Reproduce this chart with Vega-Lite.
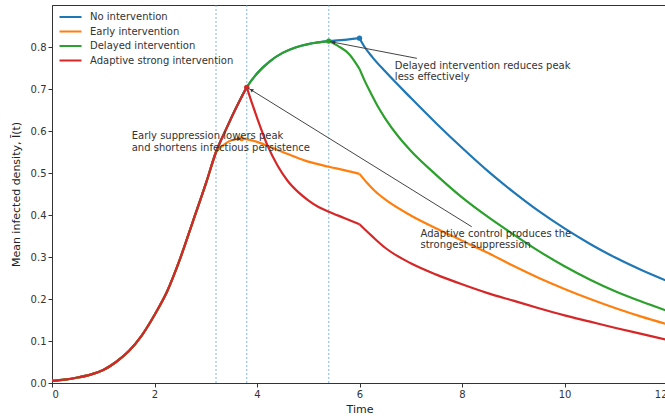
{
  "$schema": "https://vega.github.io/schema/vega-lite/v6.json",
  "autosize": {"type": "none"},
  "padding": {"left": 52, "top": 5, "right": 0, "bottom": 33},
  "width": 615,
  "height": 378,
  "background": "white",
  "config": {
    "font": "DejaVu Sans",
    "view": {"stroke": "#333", "strokeWidth": 1},
    "axis": {
      "grid": false,
      "domainColor": "#333",
      "tickColor": "#333",
      "tickSize": 4,
      "labelColor": "#333",
      "labelFontSize": 10,
      "labelFont": "DejaVu Sans",
      "titleFont": "DejaVu Sans",
      "titleFontSize": 11,
      "titleFontWeight": "normal",
      "titleColor": "#222",
      "labelPadding": 2
    },
    "legend": {
      "labelFont": "DejaVu Sans",
      "labelFontSize": 10,
      "labelColor": "#333"
    }
  },
  "datasets": {
    "none": [
      {"g": "a", "t": 0, "v": 0.005}, {"g": "a", "t": 0.25, "v": 0.008}, {"g": "a", "t": 0.5, "v": 0.013}, {"g": "a", "t": 0.75, "v": 0.02},
      {"g": "a", "t": 1.0, "v": 0.031}, {"g": "a", "t": 1.25, "v": 0.05}, {"g": "a", "t": 1.5, "v": 0.076}, {"g": "a", "t": 1.75, "v": 0.113},
      {"g": "a", "t": 2.0, "v": 0.162}, {"g": "a", "t": 2.25, "v": 0.219}, {"g": "a", "t": 2.5, "v": 0.296}, {"g": "a", "t": 2.75, "v": 0.385},
      {"g": "a", "t": 3.0, "v": 0.474}, {"g": "a", "t": 3.2, "v": 0.55}, {"g": "a", "t": 3.4, "v": 0.605}, {"g": "a", "t": 3.6, "v": 0.657},
      {"g": "a", "t": 3.8, "v": 0.704}, {"g": "a", "t": 4.0, "v": 0.737}, {"g": "a", "t": 4.25, "v": 0.766}, {"g": "a", "t": 4.5, "v": 0.786},
      {"g": "a", "t": 4.75, "v": 0.799}, {"g": "a", "t": 5.0, "v": 0.807}, {"g": "a", "t": 5.2, "v": 0.811}, {"g": "a", "t": 5.4, "v": 0.814},
      {"g": "a", "t": 5.7, "v": 0.817}, {"g": "a", "t": 6.0, "v": 0.821},
      {"g": "b", "t": 6.0, "v": 0.821}, {"g": "b", "t": 6.1, "v": 0.8}, {"g": "b", "t": 6.25, "v": 0.776},
      {"g": "b", "t": 6.5, "v": 0.742}, {"g": "b", "t": 7.0, "v": 0.679}, {"g": "b", "t": 7.5, "v": 0.618}, {"g": "b", "t": 8.0, "v": 0.56},
      {"g": "b", "t": 8.5, "v": 0.505}, {"g": "b", "t": 9.0, "v": 0.455}, {"g": "b", "t": 9.5, "v": 0.409}, {"g": "b", "t": 10.0, "v": 0.368},
      {"g": "b", "t": 10.5, "v": 0.331}, {"g": "b", "t": 11.0, "v": 0.298}, {"g": "b", "t": 11.5, "v": 0.269}, {"g": "b", "t": 12.0, "v": 0.243}
    ],
    "early": [
      {"g": "a", "t": 0, "v": 0.005}, {"g": "a", "t": 0.25, "v": 0.008}, {"g": "a", "t": 0.5, "v": 0.013}, {"g": "a", "t": 0.75, "v": 0.02},
      {"g": "a", "t": 1.0, "v": 0.031}, {"g": "a", "t": 1.25, "v": 0.05}, {"g": "a", "t": 1.5, "v": 0.076}, {"g": "a", "t": 1.75, "v": 0.113},
      {"g": "a", "t": 2.0, "v": 0.162}, {"g": "a", "t": 2.25, "v": 0.219}, {"g": "a", "t": 2.5, "v": 0.296}, {"g": "a", "t": 2.75, "v": 0.385},
      {"g": "a", "t": 3.0, "v": 0.474}, {"g": "a", "t": 3.2, "v": 0.55},
      {"g": "b", "t": 3.2, "v": 0.55}, {"g": "b", "t": 3.35, "v": 0.567}, {"g": "b", "t": 3.5, "v": 0.578},
      {"g": "b", "t": 3.7, "v": 0.582}, {"g": "b", "t": 4.0, "v": 0.574}, {"g": "b", "t": 4.3, "v": 0.56}, {"g": "b", "t": 4.65, "v": 0.543},
      {"g": "b", "t": 5.0, "v": 0.527}, {"g": "b", "t": 5.4, "v": 0.515}, {"g": "b", "t": 5.7, "v": 0.507}, {"g": "b", "t": 6.0, "v": 0.498},
      {"g": "c", "t": 6.0, "v": 0.498}, {"g": "c", "t": 6.15, "v": 0.476}, {"g": "c", "t": 6.3, "v": 0.457}, {"g": "c", "t": 6.5, "v": 0.437}, {"g": "c", "t": 7.0, "v": 0.399},
      {"g": "c", "t": 7.5, "v": 0.368}, {"g": "c", "t": 8.0, "v": 0.339}, {"g": "c", "t": 8.5, "v": 0.31}, {"g": "c", "t": 9.0, "v": 0.279},
      {"g": "c", "t": 9.5, "v": 0.25}, {"g": "c", "t": 10.0, "v": 0.224}, {"g": "c", "t": 10.5, "v": 0.2}, {"g": "c", "t": 11.0, "v": 0.178},
      {"g": "c", "t": 11.5, "v": 0.158}, {"g": "c", "t": 12.0, "v": 0.14}
    ],
    "delayed": [
      {"g": "a", "t": 0, "v": 0.005}, {"g": "a", "t": 0.25, "v": 0.008}, {"g": "a", "t": 0.5, "v": 0.013}, {"g": "a", "t": 0.75, "v": 0.02},
      {"g": "a", "t": 1.0, "v": 0.031}, {"g": "a", "t": 1.25, "v": 0.05}, {"g": "a", "t": 1.5, "v": 0.076}, {"g": "a", "t": 1.75, "v": 0.113},
      {"g": "a", "t": 2.0, "v": 0.162}, {"g": "a", "t": 2.25, "v": 0.219}, {"g": "a", "t": 2.5, "v": 0.296}, {"g": "a", "t": 2.75, "v": 0.385},
      {"g": "a", "t": 3.0, "v": 0.474}, {"g": "a", "t": 3.2, "v": 0.55}, {"g": "a", "t": 3.4, "v": 0.605}, {"g": "a", "t": 3.6, "v": 0.657},
      {"g": "a", "t": 3.8, "v": 0.704}, {"g": "a", "t": 4.0, "v": 0.737}, {"g": "a", "t": 4.25, "v": 0.766}, {"g": "a", "t": 4.5, "v": 0.786},
      {"g": "a", "t": 4.75, "v": 0.799}, {"g": "a", "t": 5.0, "v": 0.807}, {"g": "a", "t": 5.2, "v": 0.811}, {"g": "a", "t": 5.4, "v": 0.814},
      {"g": "b", "t": 5.4, "v": 0.814}, {"g": "b", "t": 5.6, "v": 0.801}, {"g": "b", "t": 5.8, "v": 0.783}, {"g": "b", "t": 6.0, "v": 0.748},
      {"g": "c", "t": 6.0, "v": 0.748}, {"g": "c", "t": 6.1, "v": 0.72},
      {"g": "c", "t": 6.2, "v": 0.695}, {"g": "c", "t": 6.35, "v": 0.66}, {"g": "c", "t": 6.5, "v": 0.63}, {"g": "c", "t": 6.75, "v": 0.588},
      {"g": "c", "t": 7.0, "v": 0.553}, {"g": "c", "t": 7.5, "v": 0.495}, {"g": "c", "t": 8.0, "v": 0.442}, {"g": "c", "t": 8.5, "v": 0.396},
      {"g": "c", "t": 9.0, "v": 0.354}, {"g": "c", "t": 9.5, "v": 0.314}, {"g": "c", "t": 10.0, "v": 0.278}, {"g": "c", "t": 10.5, "v": 0.246},
      {"g": "c", "t": 11.0, "v": 0.218}, {"g": "c", "t": 11.5, "v": 0.194}, {"g": "c", "t": 12.0, "v": 0.172}
    ],
    "adaptive": [
      {"g": "a", "t": 0, "v": 0.005}, {"g": "a", "t": 0.25, "v": 0.008}, {"g": "a", "t": 0.5, "v": 0.013}, {"g": "a", "t": 0.75, "v": 0.02},
      {"g": "a", "t": 1.0, "v": 0.031}, {"g": "a", "t": 1.25, "v": 0.05}, {"g": "a", "t": 1.5, "v": 0.076}, {"g": "a", "t": 1.75, "v": 0.113},
      {"g": "a", "t": 2.0, "v": 0.162}, {"g": "a", "t": 2.25, "v": 0.219}, {"g": "a", "t": 2.5, "v": 0.296}, {"g": "a", "t": 2.75, "v": 0.385},
      {"g": "a", "t": 3.0, "v": 0.474}, {"g": "a", "t": 3.2, "v": 0.55}, {"g": "a", "t": 3.4, "v": 0.605}, {"g": "a", "t": 3.6, "v": 0.657},
      {"g": "a", "t": 3.8, "v": 0.704},
      {"g": "b", "t": 3.8, "v": 0.704}, {"g": "b", "t": 3.9, "v": 0.667}, {"g": "b", "t": 4.0, "v": 0.632}, {"g": "b", "t": 4.2, "v": 0.567},
      {"g": "b", "t": 4.4, "v": 0.518}, {"g": "b", "t": 4.6, "v": 0.481}, {"g": "b", "t": 4.8, "v": 0.455}, {"g": "b", "t": 5.0, "v": 0.435},
      {"g": "b", "t": 5.2, "v": 0.419}, {"g": "b", "t": 5.4, "v": 0.408}, {"g": "b", "t": 5.7, "v": 0.393}, {"g": "b", "t": 6.0, "v": 0.378},
      {"g": "c", "t": 6.0, "v": 0.378}, {"g": "c", "t": 6.25, "v": 0.349}, {"g": "c", "t": 6.5, "v": 0.322}, {"g": "c", "t": 7.0, "v": 0.285}, {"g": "c", "t": 7.5, "v": 0.258},
      {"g": "c", "t": 8.0, "v": 0.235}, {"g": "c", "t": 8.5, "v": 0.214}, {"g": "c", "t": 9.0, "v": 0.196}, {"g": "c", "t": 9.5, "v": 0.178},
      {"g": "c", "t": 10.0, "v": 0.161}, {"g": "c", "t": 10.5, "v": 0.146}, {"g": "c", "t": 11.0, "v": 0.131}, {"g": "c", "t": 11.5, "v": 0.117},
      {"g": "c", "t": 12.0, "v": 0.103}
    ],
    "peaks": [
      {"s": "No intervention", "t": 6.0, "v": 0.821},
      {"s": "Early intervention", "t": 3.7, "v": 0.582},
      {"s": "Delayed intervention", "t": 5.4, "v": 0.814},
      {"s": "Adaptive strong intervention", "t": 3.8, "v": 0.704}
    ],
    "switches": [{"t": 3.2}, {"t": 3.8}, {"t": 5.4}],
    "arrows": [
      {"t": 3.5, "v": 0.578, "t2": 3.68, "v2": 0.582},
      {"t": 7.12, "v": 0.773, "t2": 5.42, "v2": 0.813},
      {"t": 8.19, "v": 0.372, "t2": 3.83, "v2": 0.702}
    ],
    "heads": [
      {"k": "early", "t": 3.64, "v": 0.581},
      {"k": "delayed", "t": 5.5, "v": 0.811},
      {"k": "adaptive", "t": 3.9, "v": 0.697}
    ],
    "notes": [
      {"t": 1.555, "v": 0.6, "label": "Early suppression lowers peak\nand shortens infectious persistence"},
      {"t": 6.69, "v": 0.767, "label": "Delayed intervention reduces peak\nless effectively"},
      {"t": 7.19, "v": 0.367, "label": "Adaptive control produces the\nstrongest suppression"}
    ]
  },
  "layer": [
    {
      "data": {"name": "switches"},
      "mark": {"type": "rule", "color": "#5a9fd4", "strokeWidth": 1, "strokeDash": [2, 2], "opacity": 0.75},
      "encoding": {"x": {"field": "t", "type": "quantitative"}}
    },
    {
      "data": {"name": "none"},
      "mark": {"type": "line", "strokeWidth": 2.2, "interpolate": "monotone"},
      "encoding": {
        "x": {"field": "t", "type": "quantitative", "scale": {"domain": [0, 12], "nice": false},
              "axis": {"values": [0, 2, 4, 6, 8, 10, 12], "title": "Time", "titlePadding": 4}},
        "y": {"field": "v", "type": "quantitative", "scale": {"domain": [0, 0.9], "nice": false},
              "axis": {"values": [0, 0.1, 0.2, 0.3, 0.4, 0.5, 0.6, 0.7, 0.8], "format": ".1f",
                       "title": "Mean infected density, Ī(t)", "titlePadding": 9}},
        "detail": {"field": "g", "type": "nominal"},
        "color": {"datum": "No intervention", "type": "nominal",
                  "scale": {"domain": ["No intervention", "Early intervention", "Delayed intervention", "Adaptive strong intervention"],
                            "range": ["#1f77b4", "#ff7f0e", "#2ca02c", "#d62728"]},
                  "legend": {"title": null, "orient": "none", "legendX": 6, "legendY": 6,
                             "symbolType": "stroke", "symbolSize": 484, "symbolStrokeWidth": 2.2,
                             "clipHeight": 12, "rowPadding": 2.5, "labelOffset": 7, "padding": 0}}
      }
    },
    {
      "data": {"name": "early"},
      "mark": {"type": "line", "strokeWidth": 2.2, "interpolate": "monotone"},
      "encoding": {
        "x": {"field": "t", "type": "quantitative"},
        "y": {"field": "v", "type": "quantitative"},
        "detail": {"field": "g", "type": "nominal"},
        "color": {"datum": "Early intervention", "type": "nominal"}
      }
    },
    {
      "data": {"name": "delayed"},
      "mark": {"type": "line", "strokeWidth": 2.2, "interpolate": "monotone"},
      "encoding": {
        "x": {"field": "t", "type": "quantitative"},
        "y": {"field": "v", "type": "quantitative"},
        "detail": {"field": "g", "type": "nominal"},
        "color": {"datum": "Delayed intervention", "type": "nominal"}
      }
    },
    {
      "data": {"name": "adaptive"},
      "mark": {"type": "line", "strokeWidth": 2.2, "interpolate": "monotone"},
      "encoding": {
        "x": {"field": "t", "type": "quantitative"},
        "y": {"field": "v", "type": "quantitative"},
        "detail": {"field": "g", "type": "nominal"},
        "color": {"datum": "Adaptive strong intervention", "type": "nominal"}
      }
    },
    {
      "data": {"name": "peaks"},
      "mark": {"type": "point", "filled": true, "size": 28, "opacity": 1},
      "encoding": {
        "x": {"field": "t", "type": "quantitative"},
        "y": {"field": "v", "type": "quantitative"},
        "color": {"field": "s", "type": "nominal", "legend": null}
      }
    },
    {
      "data": {"name": "arrows"},
      "mark": {"type": "rule", "color": "#444", "strokeWidth": 1},
      "encoding": {
        "x": {"field": "t", "type": "quantitative"},
        "y": {"field": "v", "type": "quantitative"},
        "x2": {"field": "t2"},
        "y2": {"field": "v2"}
      }
    },
    {
      "data": {"name": "heads"},
      "transform": [{"filter": "datum.k == 'early'"}],
      "mark": {"type": "point", "shape": "triangle", "filled": true, "size": 16, "color": "#333", "opacity": 1, "angle": 90},
      "encoding": {"x": {"field": "t", "type": "quantitative"}, "y": {"field": "v", "type": "quantitative"}}
    },
    {
      "data": {"name": "heads"},
      "transform": [{"filter": "datum.k == 'delayed'"}],
      "mark": {"type": "point", "shape": "triangle", "filled": true, "size": 16, "color": "#333", "opacity": 1, "angle": 281},
      "encoding": {"x": {"field": "t", "type": "quantitative"}, "y": {"field": "v", "type": "quantitative"}}
    },
    {
      "data": {"name": "heads"},
      "transform": [{"filter": "datum.k == 'adaptive'"}],
      "mark": {"type": "point", "shape": "triangle", "filled": true, "size": 16, "color": "#333", "opacity": 1, "angle": 302},
      "encoding": {"x": {"field": "t", "type": "quantitative"}, "y": {"field": "v", "type": "quantitative"}}
    },
    {
      "data": {"name": "notes"},
      "mark": {"type": "text", "align": "left", "baseline": "top", "fontSize": 10, "lineHeight": 11.5,
               "lineBreak": "\n", "color": "#333", "font": "DejaVu Sans"},
      "encoding": {
        "x": {"field": "t", "type": "quantitative"},
        "y": {"field": "v", "type": "quantitative"},
        "text": {"field": "label"}
      }
    }
  ]
}
